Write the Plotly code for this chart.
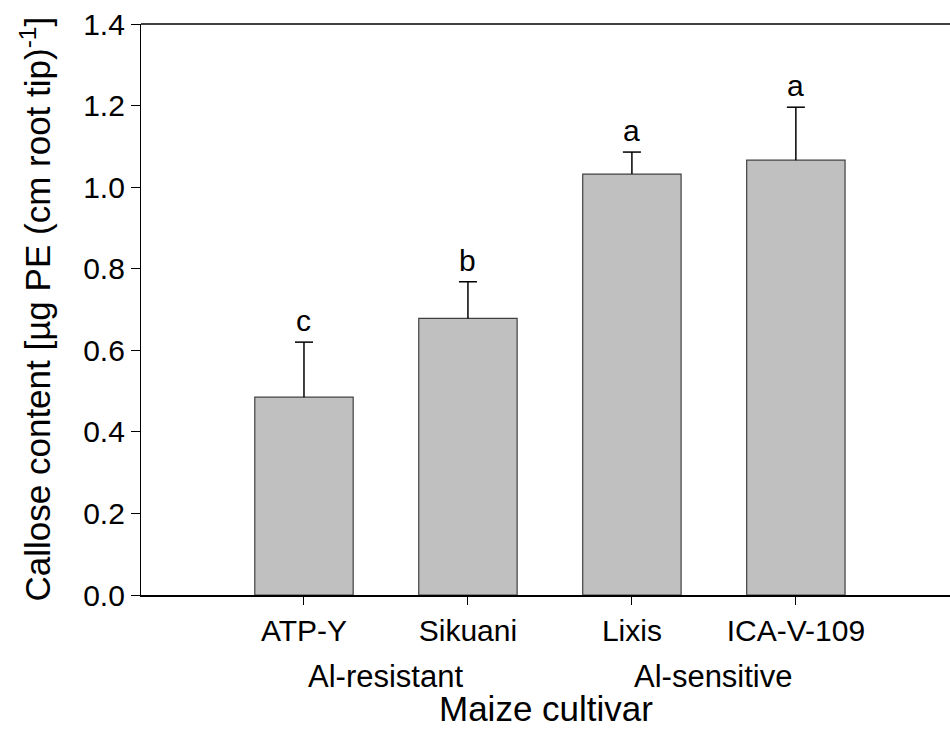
import plotly.graph_objects as go

cultivars = ["ATP-Y", "Sikuani", "Lixis", "ICA-V-109"]
callose = [0.485, 0.678, 1.032, 1.066]
callose_se = [0.135, 0.090, 0.054, 0.130]
letters = ["c", "b", "a", "a"]
groups = ["Al-resistant", "Al-sensitive"]
group_pos = [0.5, 2.5]
yticks = [0.0, 0.2, 0.4, 0.6, 0.8, 1.0, 1.2, 1.4]

FONT = "Liberation Sans, Arial, sans-serif"
xs = list(range(len(cultivars)))
CAP = 0.055  # half-width of error cap in category units

fig = go.Figure()
fig.add_trace(go.Bar(
    x=xs, y=callose, width=0.6,
    marker=dict(color="#c0c0c0", line=dict(color="#404040", width=1.2)),
    showlegend=False, hoverinfo="skip",
))

# upper-only error bars (stem + cap), derived from the data arrays
ex, ey = [], []
for xi, v, e in zip(xs, callose, callose_se):
    ex += [xi, xi, None, xi - CAP, xi + CAP, None]
    ey += [v, v + e, None, v + e, v + e, None]
fig.add_trace(go.Scatter(x=ex, y=ey, mode="lines",
                         line=dict(color="black", width=1.5),
                         showlegend=False, hoverinfo="skip"))

annotations = []
for xi, v, e, l in zip(xs, callose, callose_se, letters):
    annotations.append(dict(x=xi, y=v + e, text=l, showarrow=False,
                            xref="x", yref="y", yanchor="bottom", yshift=3,
                            font=dict(family=FONT, size=30, color="black")))
for g, gp in zip(groups, group_pos):
    annotations.append(dict(x=gp, y=0, text=g, showarrow=False,
                            xref="x", yref="paper", yanchor="middle", yshift=-81,
                            font=dict(family=FONT, size=31, color="black")))
annotations.append(dict(x=0.5, y=0, text="Maize cultivar", showarrow=False,
                        xref="paper", yref="paper", yanchor="bottom", yshift=-135,
                        font=dict(family=FONT, size=35, color="black")))
annotations.append(dict(x=0, y=0.5, text="Callose content [µg PE (cm root tip)<sup>-1</sup>]",
                        showarrow=False, xref="paper", yref="paper",
                        xanchor="center", yanchor="middle", xshift=-106, textangle=-90,
                        font=dict(family=FONT, size=35, color="black")))

fig.update_layout(
    width=950, height=731,
    margin=dict(l=141, r=0, t=24, b=136),
    paper_bgcolor="white", plot_bgcolor="white",
    font=dict(family=FONT, color="black"),
    annotations=annotations,
    shapes=[dict(type="line", xref="paper", yref="paper", x0=0, x1=1, y0=1, y1=1,
                 line=dict(color="black", width=1.5))],
    xaxis=dict(range=[-0.994, 3.94], tickvals=xs, ticktext=cultivars,
               showline=True, linecolor="black", linewidth=2,
               ticks="outside", ticklen=8, tickwidth=1, tickcolor="black",
               showgrid=False, zeroline=False,
               tickfont=dict(family=FONT, size=30, color="black")),
    yaxis=dict(range=[0, 1.4], tickvals=yticks,
               ticktext=[f"{t:.1f}" for t in yticks],
               showline=True, linecolor="black", linewidth=1.2,
               ticks="outside", ticklen=9, tickwidth=1, tickcolor="black",
               showgrid=False, zeroline=False,
               tickfont=dict(family=FONT, size=30, color="black")),
)

fig.write_html("out.html")
